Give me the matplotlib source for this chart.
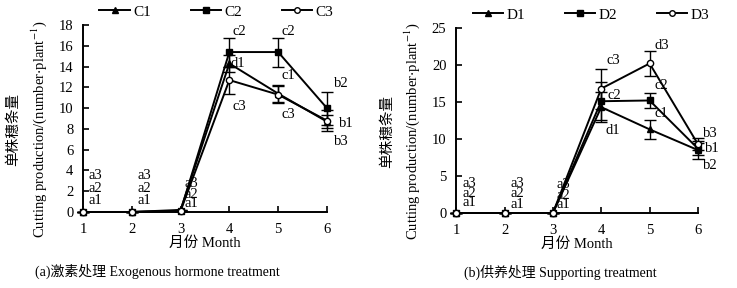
import matplotlib
matplotlib.use('Agg')
import matplotlib.pyplot as plt
from matplotlib.lines import Line2D

plt.rcParams['font.family'] = ['Liberation Serif', 'Noto Sans CJK SC']
plt.rcParams['mathtext.fontset'] = 'stix'

months = [1, 2, 3, 4, 5, 6]

# (a) hormone treatment
c1 = [0, 0, 0.2, 14.3, 11.4, 8.7]
c1_err = [0, 0, 0, 0.8, 0.8, 0.6]
c2 = [0, 0, 0.1, 15.4, 15.4, 10.0]
c2_err = [0, 0, 0, 1.4, 1.4, 1.6]
c3 = [0, 0, 0.1, 12.7, 11.3, 8.8]
c3_err = [0, 0, 0, 1.3, 0.8, 1.0]

# (b) supporting treatment
d1 = [0, 0, 0, 14.3, 11.3, 8.5]
d1_err = [0, 0, 0, 2.0, 1.3, 1.2]
d2 = [0, 0, 0, 15.1, 15.2, 8.7]
d2_err = [0, 0, 0, 2.6, 1.0, 0.8]
d3 = [0, 0, 0, 16.8, 20.2, 9.3]
d3_err = [0, 0, 0, 2.7, 1.7, 0.8]

# significance letters (x, y, text)
letters_a = [(1.12, 3.5, 'a3'), (1.12, 2.3, 'a2'), (1.12, 1.1, 'a1'),
             (2.12, 3.5, 'a3'), (2.12, 2.3, 'a2'), (2.12, 1.1, 'a1'),
             (3.08, 2.7, 'a3'), (3.08, 1.7, 'a2'), (3.08, 0.8, 'a1'),
             (4.07, 17.4, 'c2'), (4.03, 14.3, 'd1'), (4.07, 10.2, 'c3'),
             (5.07, 17.4, 'c2'), (5.07, 13.1, 'c1'), (5.07, 9.4, 'c3'),
             (6.15, 12.4, 'b2'), (6.25, 8.5, 'b1'), (6.15, 6.8, 'b3')]
letters_b = [(1.12, 4.0, 'a3'), (1.12, 2.7, 'a2'), (1.12, 1.4, 'a1'),
             (2.12, 4.0, 'a3'), (2.12, 2.7, 'a2'), (2.12, 1.1, 'a1'),
             (3.08, 3.8, 'a3'), (3.08, 2.4, 'a2'), (3.08, 1.1, 'a1'),
             (4.1, 20.6, 'c3'), (4.12, 15.9, 'c2'), (4.08, 11.1, 'd1'),
             (5.1, 22.6, 'd3'), (5.1, 17.2, 'c2'), (5.1, 13.4, 'c1'),
             (6.1, 10.7, 'b3'), (6.15, 8.7, 'b1'), (6.1, 6.4, 'b2')]

fig = plt.figure(figsize=(7.37, 2.88), dpi=100)
ax1 = fig.add_axes([0.1126, 0.264, 0.331, 0.649])
ax2 = fig.add_axes([0.619, 0.2604, 0.328, 0.6426])


def draw(ax, series, errs, names, ymax, ystep, letters):
    markers = [('^', 'k'), ('s', 'k'), ('o', 'white')]
    handles = []
    for y, e, n, (m, fc) in zip(series, errs, names, markers):
        ax.errorbar(months, y, yerr=e, color='k', lw=1.4, marker=m, ms=4.5,
                    mfc=fc, mec='k', mew=1, capsize=4, elinewidth=1,
                    clip_on=False, zorder=3)
        handles.append(Line2D([], [], color='k', lw=1.4, marker=m, ms=4,
                              mfc=fc, mec='k', mew=1, label=n))
    ax.set_xlim(1, 6)
    ax.set_ylim(0, ymax)
    ax.set_xticks(months)
    ax.set_yticks(range(0, ymax + 1, ystep))
    ax.spines['top'].set_visible(False)
    ax.spines['right'].set_visible(False)
    ax.spines['left'].set_linewidth(1.4)
    ax.spines['bottom'].set_linewidth(1.4)
    ax.tick_params(direction='in', labelsize=10.5, length=4, width=1.2)
    ax.tick_params(axis='x', pad=8)
    ax.tick_params(axis='y', pad=7)
    ax.set_xlabel('月份 Month', fontsize=10.5, labelpad=0)
    ax.set_ylabel('单株穗条量\nCutting production/(number$\\cdot$plant$^{-1}$)',
                  fontsize=10.5, linespacing=1.6)
    ax.yaxis.set_label_coords(-0.14, 0.44)
    for x, y, t in letters:
        ax.text(x, y, t, fontsize=10.5, va='center', ha='left')
    ax.legend(handles=handles, loc='lower left', bbox_to_anchor=(0.03, 0.985),
              ncol=3, frameon=False, fontsize=11, handlelength=2.0,
              columnspacing=2.6, borderaxespad=0.2, handletextpad=0.2)


draw(ax1, [c1, c2, c3], [c1_err, c2_err, c3_err], ['C1', 'C2', 'C3'], 18, 2, letters_a)
draw(ax2, [d1, d2, d3], [d1_err, d2_err, d3_err], ['D1', 'D2', 'D3'], 25, 5, letters_b)

fig.text(0.213, 0.056, '(a)激素处理 Exogenous hormone treatment', fontsize=10, ha='center', va='center')
fig.text(0.76, 0.056, '(b)供养处理 Supporting treatment', fontsize=10, ha='center', va='center')

fig.savefig('out.png', dpi=100)
